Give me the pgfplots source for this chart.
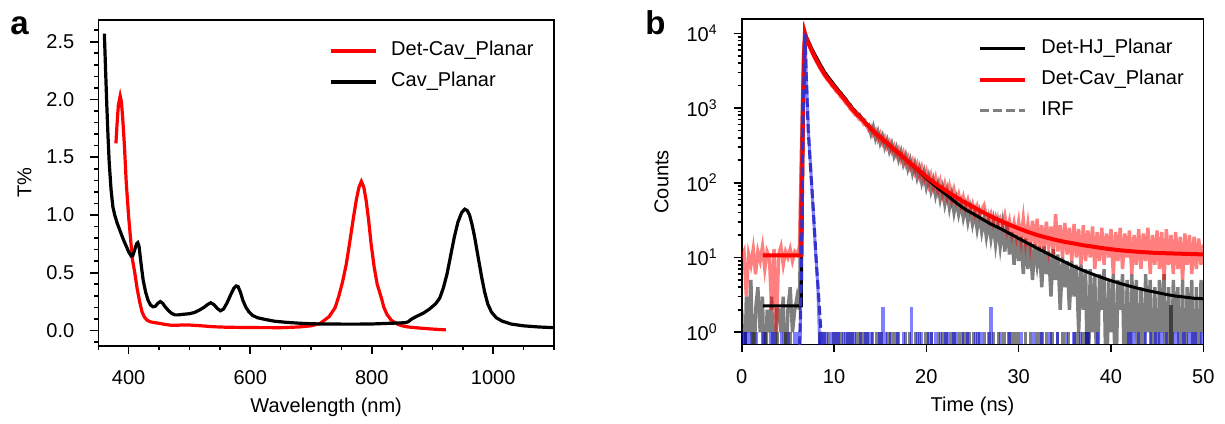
\documentclass[border=0pt]{standalone}
\usepackage{fontspec}
\setmainfont{Liberation Sans}
\usepackage{pgfplots}
\pgfplotsset{compat=1.18}
\usepackage{pgfplotstable}

\definecolor{irfblue}{RGB}{51,51,204}

\pgfplotstableread{
w T
379 1.62
381 1.80
383 1.95
386 2.03
388 1.98
390 1.85
393 1.60
396 1.28
400 0.98
403 0.80
406 0.62
410 0.50
414 0.36
418 0.25
422 0.16
426 0.115
430 0.09
435 0.076
440 0.07
450 0.062
460 0.052
470 0.045
480 0.045
490 0.048
500 0.047
520 0.04
540 0.032
560 0.028
600 0.025
650 0.024
680 0.03
700 0.04
715 0.06
730 0.12
740 0.20
746 0.30
752 0.42
758 0.57
764 0.77
770 0.98
775 1.14
779 1.24
783 1.29
787 1.24
791 1.12
795 0.95
799 0.75
804 0.55
809 0.40
816 0.28
820 0.20
825 0.14
832 0.09
840 0.06
850 0.04
860 0.03
880 0.02
900 0.012
922 0.005
}\detcav

\pgfplotstableread{
w T
360 2.57
362 2.25
364 1.95
366 1.68
368 1.45
371 1.22
374 1.07
377 1.00
381 0.93
386 0.86
391 0.79
396 0.73
400 0.68
404 0.645
407 0.65
410 0.70
413 0.75
415 0.76
417 0.73
419 0.64
421 0.55
424 0.43
428 0.33
432 0.26
436 0.22
440 0.205
444 0.21
448 0.235
452 0.25
456 0.235
460 0.205
465 0.175
470 0.15
476 0.135
482 0.135
490 0.14
500 0.145
508 0.155
516 0.175
524 0.20
530 0.225
535 0.24
540 0.225
546 0.19
551 0.17
556 0.185
562 0.24
568 0.31
573 0.365
577 0.385
580 0.38
584 0.33
588 0.26
593 0.20
598 0.16
604 0.13
612 0.11
625 0.095
640 0.08
660 0.07
680 0.063
700 0.058
720 0.056
750 0.055
780 0.055
800 0.056
820 0.06
840 0.064
855 0.067
860 0.075
866 0.10
875 0.125
885 0.15
895 0.185
905 0.23
912 0.28
918 0.37
924 0.49
930 0.65
936 0.81
942 0.94
948 1.02
953 1.05
957 1.04
961 1.00
965 0.92
969 0.82
973 0.70
977 0.58
981 0.46
986 0.33
991 0.23
997 0.16
1005 0.11
1015 0.08
1030 0.055
1050 0.04
1075 0.03
1100 0.024
}\cavplanar

\pgfplotstableread{
t hj cav
0.00 2 10
0.25 0.1 12
0.50 3 3
0.75 1 11
1.00 5 8
1.25 0.1 13
1.50 2 6
1.75 4 12
2.00 1 9
2.25 3 14
2.50 0.1 7
2.75 2 12
3.00 1 10
3.25 3 2
3.50 0.1 13
3.75 2 1
4.00 2 11
4.25 1 14
4.50 3 8
4.75 0.1 12
5.00 2 10
5.25 4 13
5.50 1 9
5.75 2 12
6.00 3 11
6.25 2 14
6.50 300 400
6.70 5000 5500
6.85 10000 10200
7.00 8700 8400
7.25 7600 7000
7.50 6300 5900
7.75 5600 5100
8.00 4750 4400
8.25 4250 3850
8.50 3650 3400
8.75 3320 3000
9.00 2850 2700
9.25 2680 2400
9.50 2330 2250
9.75 2240 1980
10.00 1950 1850
10.25 1870 1660
10.50 1640 1560
10.75 1580 1390
11.00 1370 1310
11.25 1330 1170
11.50 1150 1100
11.75 1110 970
12.00 950 910
12.25 930 820
12.50 800 790
12.75 820 700
13.00 700 690
13.25 700 600
13.50 590 600
13.75 600 510
14.00 450 560
14.25 560 440
14.50 390 500
14.75 480 380
15.00 340 450
15.25 420 340
15.50 300 400
15.75 370 300
16.00 265 350
16.25 330 265
16.50 230 310
16.75 290 235
17.00 205 280
17.25 260 205
17.50 180 250
17.75 230 180
18.00 155 220
18.25 200 160
18.50 135 195
18.75 178 140
19.00 118 175
19.25 155 122
19.50 102 158
19.75 138 108
20.00 88 140
20.25 120 95
20.50 78 125
20.75 106 86
21.00 68 115
21.25 94 78
21.50 60 104
21.75 84 70
22.00 52 95
22.25 76 64
22.50 46 88
22.75 68 58
23.00 40 80
23.25 58 56
23.50 38 70
23.75 53 50
24.00 34 64
24.25 48 45
24.50 30 58
24.75 44 42
25.00 28 52
25.25 40 38
25.50 24 48
25.75 37 35
26.00 22 44
26.25 33 50
26.50 19 36
26.75 31 30
27.00 18 38
27.25 29 28
27.50 15 35
27.75 27 27
28.00 14 33
28.25 26 26
28.50 12 36
28.75 30 23
29.00 11 31
29.25 22 20
29.50 8 29
29.75 20 19
30.00 9 30
30.25 19 17
30.50 6 33
30.75 18 16
31.00 7 28
31.25 16 15
31.50 5 31
31.75 15 14
32.00 8 33
32.25 14 13
32.50 4 27
32.75 14 12
33.00 6 30
33.25 12 14
33.50 3 26
33.75 13 11
34.00 5 38
34.25 11 12
34.50 2 27
34.75 10 10
35.00 4 29
35.25 9 11
35.50 2 25
35.75 9 9
36.00 3 28
36.25 8 10
36.50 1 24
36.75 8 8
37.00 2 27
37.25 7 9
37.50 0.1 23
37.75 7 10
38.00 1 26
38.25 6 7
38.50 0.1 22
38.75 6 9
39.00 2 25
39.25 7 8
39.50 0.1 21
39.75 5 10
40.00 1 24
40.25 6 6
40.50 0.1 22
40.75 5 9
41.00 2 25
41.25 6 7
41.50 0.1 21
41.75 5 10
42.00 0.1 23
42.25 6 6
42.50 1 20
42.75 5 8
43.00 0.1 24
43.25 4 7
43.50 0.1 21
43.75 6 9
44.00 1 25
44.25 5 6
44.50 0.1 20
44.75 4 8
45.00 0.1 23
45.25 5 7
45.50 1 22
45.75 6 5
46.00 0.1 24
46.25 4 8
46.50 0.1 20
46.75 5 6
47.00 1 22
47.25 4 7
47.50 0.1 19
47.75 5 5
48.00 0.1 21
48.25 4 8
48.50 1 20
48.75 5 6
49.00 0.1 19
49.25 4 7
49.50 0.1 18
49.75 5 8
50.00 1 15
}\trpl

\pgfplotstableread{
t hj cav
2.30 2.26 10.7
6.45 2.26 10.7
6.65 800 1000
6.85 10000 10000
7.00 9000 8700
7.25 7700 7300
7.50 6600 6200
7.75 5700 5300
8.00 5000 4600
8.50 3850 3550
9.00 3000 2800
9.50 2480 2320
10.0 2060 1940
10.5 1720 1630
11.0 1450 1380
11.5 1200 1150
12.0 1000 960
12.5 850 825
13.0 735 720
13.5 625 615
14.0 530 530
14.5 460 460
15.0 410 410
15.5 360 360
16.0 320 320
16.5 280 280
17.0 250 250
17.5 220 220
18.0 195 195
18.5 170 172
19.0 150 153
19.5 132 136
20.0 115 120
20.5 102 108
21.0 90 97
21.5 80 88
22.0 72 80
22.5 64 73
23.0 57 67
23.5 51 61
24.0 46 56
24.5 42 52
25.0 39 48
26.0 33 41
27.0 28 35.5
28.0 24.5 31
29.0 21 27.5
30.0 18 24.5
31.0 15.5 22
32.0 13.3 20
33.0 11.5 18.5
34.0 10 17.2
35.0 8.7 16.2
36.0 7.6 15.4
37.0 6.7 14.6
38.0 6.0 14
39.0 5.4 13.4
40.0 4.9 12.9
41.0 4.5 12.5
42.0 4.15 12.2
43.0 3.85 11.9
44.0 3.6 11.7
45.0 3.4 11.5
46.0 3.2 11.4
47.0 3.05 11.3
48.0 2.95 11.2
49.0 2.85 11.1
50.0 2.8 11.0
}\fits

\pgfplotstableread{
t c
0.4 1
1.3 1
2.6 1
3.9 1
4.7 1
5.3 1
8.4 1
8.7 1
9.0 1
9.4 1
9.9 1
10.0 1
10.3 1
10.5 1
10.8 1
11.3 1
11.7 1
12.0 1
12.4 1
12.8 1
13.0 1
13.3 1
13.6 1
14.2 1
14.6 1
14.9 1
15.1 1
15.8 1
16.0 1
16.5 1
16.8 1
17.0 1
17.7 1
18.2 1
18.8 1
19.3 1
19.9 1
20.1 1
20.6 1
21.3 1
21.8 1
22.2 1
22.6 1
23.0 1
23.6 1
24.0 1
24.3 1
24.7 1
25.1 1
25.6 1
26.3 1
26.8 1
27.3 1
27.8 1
28.4 1
28.9 1
29.2 1
29.6 1
30.0 1
30.7 1
31.3 1
31.9 1
32.2 1
32.6 1
33.0 1
33.6 1
34.2 1
34.8 1
35.4 1
36.1 1
36.5 1
36.9 1
37.3 1
37.6 1
46.5 2.3
}\graybars

\pgfplotstableread{
t c
0.2 1
0.5 1
0.9 1
1.6 1
2.3 1
3.1 1
3.5 1
4.3 1
5.1 1
5.7 1
6.0 1
8.5 1
8.8 1
9.0 1
9.2 1
9.7 1
10.1 1
10.5 1
11.0 1
11.5 1
11.8 1
12.0 1
12.2 1
12.9 1
13.4 1
13.7 1
14.0 1
14.9 1
15.3 2.2
15.6 1
16.1 1
16.9 1
17.5 1
18.4 2.2
19.0 1
19.5 1
20.2 1
20.5 1
21.0 1
21.5 1
22.1 1
22.3 1
23.0 1
23.3 1
23.9 1
24.5 1
25.3 1
25.8 1
26.0 1
26.7 1
27.0 2.2
28.0 1
29.0 1
30.3 1
31.6 1
32.5 1
33.4 1
34.2 1
35.2 1
36.0 1
36.7 1
37.4 1
38.5 1
41.9 1
42.2 1
42.5 1
43.0 1
43.7 1
44.3 1
44.8 1
45.3 1
45.6 1
46.0 1
46.9 1
47.2 1
47.9 1
48.4 1
48.7 1
49.1 1
49.8 1
}\bluebars

\pgfplotsset{
  myax/.style={
    scale only axis,
    anchor=south west,
    tick align=outside,
    tick pos=left,
    axis line style={line width=0.8pt},
    every tick/.style={black, line width=0.8pt},
    major tick length=4pt,
    minor tick length=2pt,
    /pgf/number format/assume math mode=true,
    /pgf/number format/1000 sep={},
    every tick label/.append style={font=\fontsize{10}{12}\selectfont},
    xticklabel style={yshift=-5pt},
    yticklabel style={xshift=-4.5pt},
    label style={font=\fontsize{10}{12}\selectfont},
    legend style={draw=none, fill=none, font=\fontsize{10}{12}\selectfont,
      anchor=north west, row sep=5.5pt, column sep=7pt, inner sep=0pt,
      nodes={inner sep=0pt, text height=7.5pt, text depth=2.5pt}},
    legend cell align=left,
    legend image code/.code={\draw[##1] (0pt,0pt) -- (22.5pt,0pt);},
    xlabel style={at={(axis description cs:0.5,-0.2066)}, anchor=base},
  }
}

\begin{document}
\begin{tikzpicture}
\useasboundingbox (0,0) rectangle (612.5pt,211.5pt);
\node[anchor=base west, font=\fontsize{16.5}{18}\selectfont\bfseries, inner sep=0pt] at (5pt,194pt) {a};
\node[anchor=base west, font=\fontsize{16.5}{18}\selectfont\bfseries, inner sep=0pt] at (322.5pt,194pt) {b};

\begin{axis}[myax,
  at={(49.15pt,38.65pt)},
  width=227.85pt, height=162.85pt,
  xmin=350, xmax=1100, ymin=-0.132, ymax=2.688,
  xtick={400,600,800,1000},
  minor xtick={350,450,500,550,650,700,750,850,900,950,1050,1100},
  ytick={0,0.5,1,1.5,2,2.5},
  minor ytick={-0.1,0.1,0.2,0.3,0.4,0.6,0.7,0.8,0.9,1.1,1.2,1.3,1.4,1.6,1.7,1.8,1.9,2.1,2.2,2.3,2.4,2.6},
  yticklabel style={/pgf/number format/.cd, fixed, fixed zerofill, precision=1},
  xlabel={Wavelength (nm)},
  ylabel={T\%},
  ylabel style={at={(axis description cs:-0.162,0.5)}, anchor=center},
  legend style={at={(rel axis cs:0.5054,0.937)}},
]
\addplot[red, line width=1.6pt] table[x=w, y=T] {\detcav};
\addlegendentry{Det-Cav\_Planar}
\addplot[black, line width=1.6pt] table[x=w, y=T] {\cavplanar};
\addlegendentry{Cav\_Planar}
\end{axis}

\begin{axis}[myax,
  at={(370.85pt,39.35pt)},
  width=230.8pt, height=162.5pt,
  ymode=log, log origin=infty,
  xmin=0, xmax=50, ymin=0.69, ymax=15400,
  xtick={0,10,20,30,40,50},
  ytick={1,10,100,1000,10000},
  yticklabels={10\textsuperscript{0},10\textsuperscript{1},10\textsuperscript{2},10\textsuperscript{3},10\textsuperscript{4}},
  xlabel={Time (ns)},
  ylabel={Counts},
  ylabel style={at={(axis description cs:-0.174,0.5)}, anchor=center},
  legend style={at={(rel axis cs:0.512,0.942)}},
]
\addlegendimage{black, line width=1.6pt}
\addlegendentry{Det-HJ\_Planar}
\addlegendimage{red, line width=2pt}
\addlegendentry{Det-Cav\_Planar}
\addlegendimage{gray, line width=1.5pt, dash pattern=on 4.5pt off 2pt}
\addlegendentry{IRF}
\addplot[forget plot, black, opacity=0.5, line width=1.7pt] table[x=t, y=hj] {\trpl};
\addplot[forget plot, ycomb, black, opacity=0.5, line width=1.6pt] table[x=t, y=c] {\graybars};
\addplot[forget plot, red, opacity=0.5, line width=1.7pt] table[x=t, y=cav] {\trpl};
\addplot[forget plot, blue, opacity=0.5, line width=1.5pt] coordinates {
(6.2,0.1) (6.35,1) (6.5,30) (6.7,3000) (6.85,10000) (7.0,2800) (7.25,450) (7.5,140) (7.75,40) (8.0,12) (8.25,4) (8.4,1) (8.5,0.1)};
\addplot[forget plot, ycomb, blue, opacity=0.5, line width=1.6pt] table[x=t, y=c] {\bluebars};
\addplot[forget plot, black, line width=1.5pt] table[x=t, y=hj] {\fits};
\addplot[forget plot, red, line width=2pt] table[x=t, y=cav] {\fits};
\addplot[forget plot, irfblue, line width=1.5pt, dash pattern=on 4.5pt off 2pt] coordinates {
(6.2,0.3) (6.45,5) (6.65,800) (6.85,10000) (7.0,2500) (7.2,500) (7.5,130) (7.75,45) (8.1,8) (8.4,2.3) (8.7,0.6) (8.9,0.3)};
\end{axis}
\end{tikzpicture}
\end{document}
